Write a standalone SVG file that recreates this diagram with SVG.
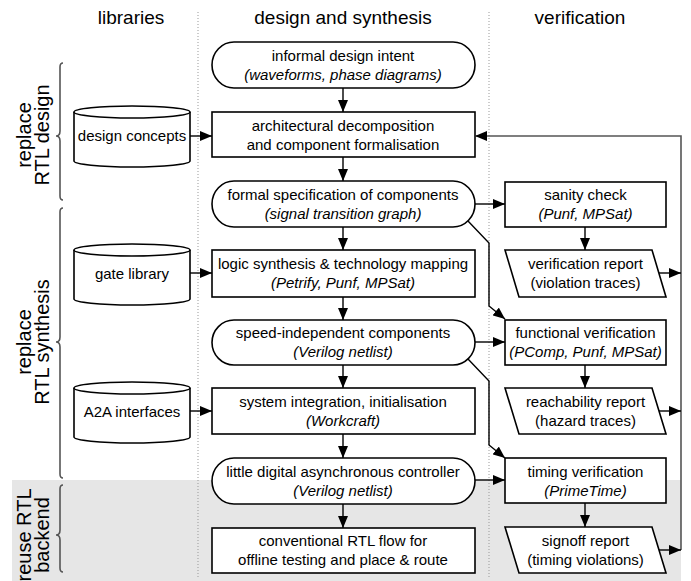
<svg xmlns="http://www.w3.org/2000/svg" width="691" height="581" viewBox="0 0 691 581">
<style>
text{font-family:"Liberation Sans",Arial,sans-serif;fill:#000}
.h{font-size:19px;text-anchor:middle}
.t{font-size:15px;text-anchor:middle}
.i{font-style:italic}
.s{font-size:20px;text-anchor:middle}
.n{fill:#fff;stroke:#000;stroke-width:1.6}
.c{fill:none;stroke:#000;stroke-width:1.4}
.g{fill:none;stroke:#555;stroke-width:1.6}
.d{fill:none;stroke:#999;stroke-width:1;stroke-dasharray:1 2}
</style>
<defs>
<marker id="a" markerUnits="userSpaceOnUse" markerWidth="12" markerHeight="10" refX="12" refY="5" orient="auto"><path d="M0,0L12,5L0,10z" fill="#000"/></marker>
</defs>
<rect x="12" y="480" width="669" height="101" fill="#e6e6e6"/>
<g id="headers">
<text class="h" x="131" y="24">libraries</text>
<text class="h" x="343" y="24">design and synthesis</text>
<text class="h" x="580" y="24">verification</text>
<line class="d" x1="198" y1="12" x2="198" y2="579"/>
<line class="d" x1="489" y1="12" x2="489" y2="579"/>
</g>
<g id="side-labels">
<path class="g" d="M63,63Q60,63 60,67L60,131Q60,136 56,136Q60,136 60,141L60,196Q60,200 63,200"/>
<text class="s" transform="translate(31,135) rotate(-90)">replace</text>
<text class="s" transform="translate(49,135) rotate(-90)">RTL design</text>
<path class="g" d="M63,208Q60,208 60,212L60,337Q60,342 56,342Q60,342 60,347L60,474Q60,478 63,478"/>
<text class="s" transform="translate(31,342) rotate(-90)">replace</text>
<text class="s" transform="translate(49,342) rotate(-90)">RTL synthesis</text>
<path class="g" d="M63,485Q60,485 60,489L60,530Q60,535 56,535Q60,535 60,540L60,568Q60,572 63,572"/>
<text class="s" transform="translate(31,535) rotate(-90)">reuse RTL</text>
<text class="s" transform="translate(49,535) rotate(-90)">backend</text>
</g>
<g id="connectors">
<line class="c" x1="343" y1="88" x2="343" y2="112" marker-end="url(#a)"/>
<line class="c" x1="343" y1="157" x2="343" y2="181" marker-end="url(#a)"/>
<line class="c" x1="343" y1="227" x2="343" y2="250" marker-end="url(#a)"/>
<line class="c" x1="343" y1="297" x2="343" y2="320" marker-end="url(#a)"/>
<line class="c" x1="343" y1="365" x2="343" y2="388" marker-end="url(#a)"/>
<line class="c" x1="343" y1="434" x2="343" y2="458" marker-end="url(#a)"/>
<line class="c" x1="343" y1="504" x2="343" y2="528" marker-end="url(#a)"/>
<line class="c" x1="190" y1="136" x2="212" y2="136" marker-end="url(#a)"/>
<line class="c" x1="190" y1="273" x2="212" y2="273" marker-end="url(#a)"/>
<line class="c" x1="190" y1="411" x2="212" y2="411" marker-end="url(#a)"/>
<line class="c" x1="475" y1="204" x2="505" y2="204" marker-end="url(#a)"/>
<line class="c" x1="475" y1="342" x2="505" y2="342" marker-end="url(#a)"/>
<line class="c" x1="475" y1="480" x2="505" y2="480" marker-end="url(#a)"/>
<line class="c" x1="585" y1="227" x2="585" y2="250" marker-end="url(#a)"/>
<line class="c" x1="585" y1="365" x2="585" y2="388" marker-end="url(#a)"/>
<line class="c" x1="585" y1="503" x2="585" y2="527" marker-end="url(#a)"/>
<polyline class="c" points="468,221 489,243 489,306 505,319" marker-end="url(#a)"/>
<polyline class="c" points="468,359 489,381 489,445 505,458" marker-end="url(#a)"/>
<polyline class="g" points="681,550 681,136 476,136"/>
<line class="c" x1="660" y1="136" x2="475" y2="136" marker-end="url(#a)" stroke-opacity="0"/>
<line class="c" x1="659" y1="273" x2="681" y2="273" marker-end="url(#a)"/>
<line class="c" x1="659" y1="411" x2="681" y2="411" marker-end="url(#a)"/>
<line class="c" x1="659" y1="550" x2="681" y2="550" marker-end="url(#a)"/>
</g>
<g id="design-concepts">
<path class="n" d="M74,112A58,6 0 0 1 190,112L190,161A58,6 0 0 1 74,161z"/>
<path class="n" d="M74,112A58,6 0 0 0 190,112" fill="none"/>
<text class="t" x="132" y="141">design concepts</text>
</g>
<g id="gate-library">
<path class="n" d="M74,250A58,6 0 0 1 190,250L190,299A58,6 0 0 1 74,299z"/>
<path class="n" d="M74,250A58,6 0 0 0 190,250" fill="none"/>
<text class="t" x="132" y="279">gate library</text>
</g>
<g id="a2a-interfaces">
<path class="n" d="M74,388A58,6 0 0 1 190,388L190,437A58,6 0 0 1 74,437z"/>
<path class="n" d="M74,388A58,6 0 0 0 190,388" fill="none"/>
<text class="t" x="132" y="417">A2A interfaces</text>
</g>
<g id="informal-design-intent">
<rect class="n" x="212" y="42" width="263" height="46" rx="22" ry="23"/>
<text class="t" x="343" y="61">informal design intent</text>
<text class="t i" x="343" y="80">(waveforms, phase diagrams)</text>
</g>
<g id="architectural-decomposition">
<rect class="n" x="212" y="112" width="263" height="45"/>
<text class="t" x="343" y="131">architectural decomposition</text>
<text class="t" x="343" y="150">and component formalisation</text>
</g>
<g id="formal-specification">
<rect class="n" x="212" y="181" width="263" height="46" rx="22" ry="23"/>
<text class="t" x="343" y="200">formal specification of components</text>
<text class="t i" x="343" y="219">(signal transition graph)</text>
</g>
<g id="logic-synthesis">
<rect class="n" x="212" y="250" width="263" height="47"/>
<text class="t" x="343" y="269">logic synthesis &amp; technology mapping</text>
<text class="t i" x="343" y="288">(Petrify, Punf, MPSat)</text>
</g>
<g id="speed-independent-components">
<rect class="n" x="212" y="320" width="263" height="45" rx="22" ry="22.5"/>
<text class="t" x="343" y="338">speed-independent components</text>
<text class="t i" x="343" y="357">(Verilog netlist)</text>
</g>
<g id="system-integration">
<rect class="n" x="212" y="388" width="263" height="46"/>
<text class="t" x="343" y="407">system integration, initialisation</text>
<text class="t i" x="343" y="426">(Workcraft)</text>
</g>
<g id="little-digital-controller">
<rect class="n" x="212" y="458" width="263" height="46" rx="22" ry="23"/>
<text class="t" x="343" y="477">little digital asynchronous controller</text>
<text class="t i" x="343" y="496">(Verilog netlist)</text>
</g>
<g id="conventional-rtl-flow">
<rect class="n" x="212" y="528" width="263" height="45"/>
<text class="t" x="343" y="546">conventional RTL flow for</text>
<text class="t" x="343" y="565">offline testing and place &amp; route</text>
</g>
<g id="sanity-check">
<rect class="n" x="505" y="182" width="161" height="45"/>
<text class="t" x="585.5" y="200">sanity check</text>
<text class="t i" x="585.5" y="219">(Punf, MPSat)</text>
</g>
<g id="verification-report">
<path class="n" d="M505,250L652,250L666,297L519,297z"/>
<text class="t" x="585.5" y="269">verification report</text>
<text class="t" x="585.5" y="288">(violation traces)</text>
</g>
<g id="functional-verification">
<rect class="n" x="505" y="320" width="161" height="45"/>
<text class="t" x="585.5" y="338">functional verification</text>
<text class="t i" x="585.5" y="357">(PComp, Punf, MPSat)</text>
</g>
<g id="reachability-report">
<path class="n" d="M505,388L652,388L666,434L519,434z"/>
<text class="t" x="585.5" y="407">reachability report</text>
<text class="t" x="585.5" y="426">(hazard traces)</text>
</g>
<g id="timing-verification">
<rect class="n" x="505" y="458" width="161" height="45"/>
<text class="t" x="585.5" y="477">timing verification</text>
<text class="t i" x="585.5" y="496">(PrimeTime)</text>
</g>
<g id="signoff-report">
<path class="n" d="M505,527L652,527L666,573L519,573z"/>
<text class="t" x="585.5" y="546">signoff report</text>
<text class="t" x="585.5" y="565">(timing violations)</text>
</g>
</svg>
